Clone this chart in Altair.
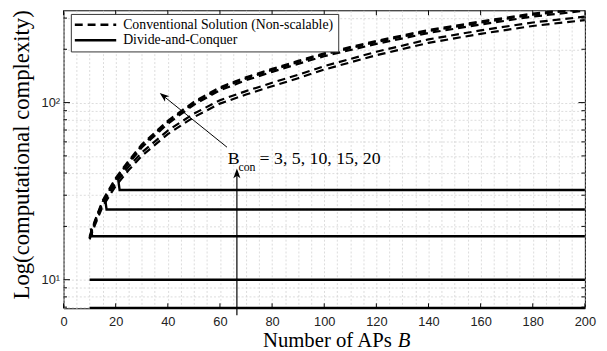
import altair as alt
import pandas as pd

# ---------------- data ----------------
B = [10, 12, 15, 20, 25, 30, 40, 50, 60, 70, 80, 90, 100, 120, 140, 160, 180, 200]
conv_bcon3 = [16.9, 20.3, 25.9, 33.8, 41.6, 50.0, 66.4, 82.8, 98.7, 111.0, 123.7, 137.3, 153.6, 185.1, 217.4, 244.4, 270.8, 292.2]
conv_bcon5 = [17.2, 20.8, 26.8, 35.2, 43.5, 52.3, 69.5, 86.6, 103.2, 116.1, 129.4, 143.6, 160.7, 193.6, 227.4, 255.7, 283.3, 305.6]
conv_bcon10 = [17.3, 21.1, 27.3, 36.3, 45.2, 55.8, 76.0, 97.2, 117.4, 133.7, 149.1, 165.5, 182.8, 214.5, 247.2, 276.1, 305.9, 330.0]
conv_bcon15 = [17.2, 21.2, 27.6, 36.9, 46.3, 57.1, 77.8, 99.5, 120.2, 136.9, 152.7, 169.4, 187.2, 219.7, 253.1, 282.7, 313.2, 337.9]
conv_bcon20 = [17.5, 21.5, 28.0, 37.5, 47.0, 58.0, 79.0, 101.0, 122.0, 139.0, 155.0, 172.0, 190.0, 223.0, 257.0, 287.0, 318.0, 343.0]

dc_B = {3: [10, 200], 5: [10, 200], 10: [10.5, 11, 200], 15: [16, 16.5, 200], 20: [21, 21.5, 200]}
dc_val = {3: [6.93, 6.93], 5: [10.0, 10.0], 10: [19.5, 17.6, 17.6], 15: [28.3, 24.9, 24.9], 20: [36.5, 32.1, 32.1]}

CONV = "Conventional Solution (Non-scalable)"
DNC = "Divide-and-Conquer"

x_grid = list(range(0, 201, 5))
x_major = list(range(0, 201, 20))
y_major = [10, 100]
y_minor = [7, 8, 9, 20, 30, 40, 50, 60, 70, 80, 90, 200, 300]

# annotation positions (data coordinates)
diag_arrow = {"B": [62.7], "value": [56.0], "B2": [38.3], "value2": [109.0]}
diag_head = {"B": [36.9], "value": [113.4]}
vert_arrow = {"B": [66.5], "value": [6.3], "B2": [66.5], "value2": [41.0]}
vert_head = {"B": [66.5], "value": [42.4]}
label_parts = ["B", "con", "= 3, 5, 10, 15, 20"]
label_B = [63.0, 67.1, 75.2]
label_val = [45.3, 41.0, 45.3]
label_size = [18, 12, 18]

W, H = 528.4, 302

# ---------------- tables ----------------
rows = []
for name, vals in [("3", conv_bcon3), ("5", conv_bcon5), ("10", conv_bcon10),
                   ("15", conv_bcon15), ("20", conv_bcon20)]:
    for b, v in zip(B, vals):
        rows.append({"B": b, "value": v, "series": "c" + name, "kind": CONV})
conv_df = pd.DataFrame(rows)

rows = []
for k in dc_B:
    for b, v in zip(dc_B[k], dc_val[k]):
        rows.append({"B": b, "value": v, "series": "d" + str(k), "kind": DNC})
dc_df = pd.DataFrame(rows)

xs = alt.Scale(domain=[0, 200], nice=False, zero=False)
ys = alt.Scale(type="log", domain=[6.9, 332], nice=False)

xaxis = alt.Axis(values=x_grid, labelExpr="datum.value % 20 == 0 ? datum.label : ''",
                 title=None, labelPadding=7, labelFlush=False, labelOverlap=False)
yaxis = alt.Axis(values=y_major + y_minor,
                 labelExpr="datum.value == 10 ? '10¹' : (datum.value == 100 ? '10²' : '')",
                 title="Log(computational complexity)", titleFont="Liberation Serif",
                 titleFontSize=23, titleFontWeight="normal", titleColor="black",
                 titleX=-43, titleY=146, titleBaseline="middle", titleAngle=270,
                 labelPadding=4, labelOverlap=False)

X = alt.X("B:Q", scale=xs, axis=xaxis)
Y = alt.Y("value:Q", scale=ys, axis=yaxis)

dash_scale = alt.Scale(domain=[CONV, DNC], range=[[8, 5], [1, 0]])
legend = alt.Legend(title=None, orient="none", legendX=7.4, legendY=3.7,
                    symbolType="M-4,0L4,0", symbolSize=110, symbolOffset=14,
                    symbolStrokeWidth=2.5, symbolStrokeColor="black",
                    labelOffset=21, labelLimit=0, labelFont="Liberation Serif", labelFontSize=14,
                    labelColor="black", padding=4, rowPadding=1.6,
                    strokeColor="#333", fillColor="white")

conv_layer = alt.Chart(conv_df).mark_line(color="black", strokeWidth=2.2, clip=True,
                                          strokeCap="butt").encode(
    x=X, y=Y, detail="series:N",
    strokeDash=alt.StrokeDash("kind:N", scale=dash_scale, legend=legend))

dc_layer = alt.Chart(dc_df).mark_line(color="black", strokeWidth=2.4).encode(
    x=X, y=Y, detail="series:N",
    strokeDash=alt.StrokeDash("kind:N", scale=dash_scale, legend=legend))

# inward ticks
xt = pd.DataFrame({"B": x_major})
xt_bottom = alt.Chart(xt).mark_rule(color="black", strokeWidth=1).encode(
    x=X, y=alt.value(H), y2=alt.value(H - 5))
xt_top = alt.Chart(xt).mark_rule(color="black", strokeWidth=1).encode(
    x=X, y=alt.value(0), y2=alt.value(5))
ytM = pd.DataFrame({"value": y_major})
ytm = pd.DataFrame({"value": y_minor})
yt_left_M = alt.Chart(ytM).mark_rule(color="black", strokeWidth=1).encode(
    y=Y, x=alt.value(0), x2=alt.value(6.5))
yt_right_M = alt.Chart(ytM).mark_rule(color="black", strokeWidth=1).encode(
    y=Y, x=alt.value(W), x2=alt.value(W - 6.5))
yt_left_m = alt.Chart(ytm).mark_rule(color="black", strokeWidth=1).encode(
    y=Y, x=alt.value(0), x2=alt.value(3.5))
yt_right_m = alt.Chart(ytm).mark_rule(color="black", strokeWidth=1).encode(
    y=Y, x=alt.value(W), x2=alt.value(W - 3.5))

# arrows
d_line = alt.Chart(pd.DataFrame(diag_arrow)).mark_rule(color="black", strokeWidth=1).encode(
    x=X, y=Y, x2="B2:Q", y2="value2:Q")
v_line = alt.Chart(pd.DataFrame(vert_arrow)).mark_rule(color="black", strokeWidth=1.2).encode(
    x=X, y=Y, x2="B2:Q", y2="value2:Q")
head_path = "M0,0L-0.8,2.2L0,1.6L0.8,2.2Z"
d_head = alt.Chart(pd.DataFrame(diag_head)).mark_point(
    shape=head_path, filled=True, color="black", size=80, angle=309, opacity=1).encode(x=X, y=Y)
v_head = alt.Chart(pd.DataFrame(vert_head)).mark_point(
    shape=head_path, filled=True, color="black", size=80, angle=0, opacity=1).encode(x=X, y=Y)

lab_df = pd.DataFrame({"B": label_B, "value": label_val, "text": label_parts, "size": label_size})
labels = alt.Chart(lab_df).mark_text(font="Liberation Serif", align="left",
                                     baseline="alphabetic", color="black").encode(
    x=X, y=Y, text="text:N", size=alt.Size("size:Q", scale=None, legend=None))

# x axis title with italic B
xt_df1 = pd.DataFrame({"B": [126.3], "text": ["Number of APs"]})
xt_df2 = pd.DataFrame({"B": [126.3], "text": ["B"]})
xtitle1 = alt.Chart(xt_df1).mark_text(font="Liberation Serif", fontSize=21, align="right",
                                      baseline="alphabetic", color="black", dx=-1).encode(
    x=X, y=alt.value(341), text="text:N")
xtitle2 = alt.Chart(xt_df2).mark_text(font="Liberation Serif", fontSize=21, fontStyle="italic",
                                      align="left", baseline="alphabetic", color="black", dx=5).encode(
    x=X, y=alt.value(341), text="text:N")

chart = alt.layer(
    conv_layer, dc_layer, xt_bottom, xt_top, yt_left_M, yt_right_M, yt_left_m, yt_right_m,
    d_line, v_line, d_head, v_head, labels, xtitle1, xtitle2
).properties(
    width=W, height=H,
    autosize=alt.AutoSizeParams(type="none"),
    padding={"left": 56.3, "top": 0, "right": 14.3, "bottom": 41},
).configure_view(stroke="black", strokeWidth=1
).configure_axis(domain=False, ticks=False, grid=True, gridColor="#d2d2d2",
                 gridDash=[2, 2], gridWidth=0.8, labelFont="Liberation Sans",
                 labelFontSize=13, labelColor="#222")

chart.save("out.html", embed_options={"renderer": "svg", "actions": False})
